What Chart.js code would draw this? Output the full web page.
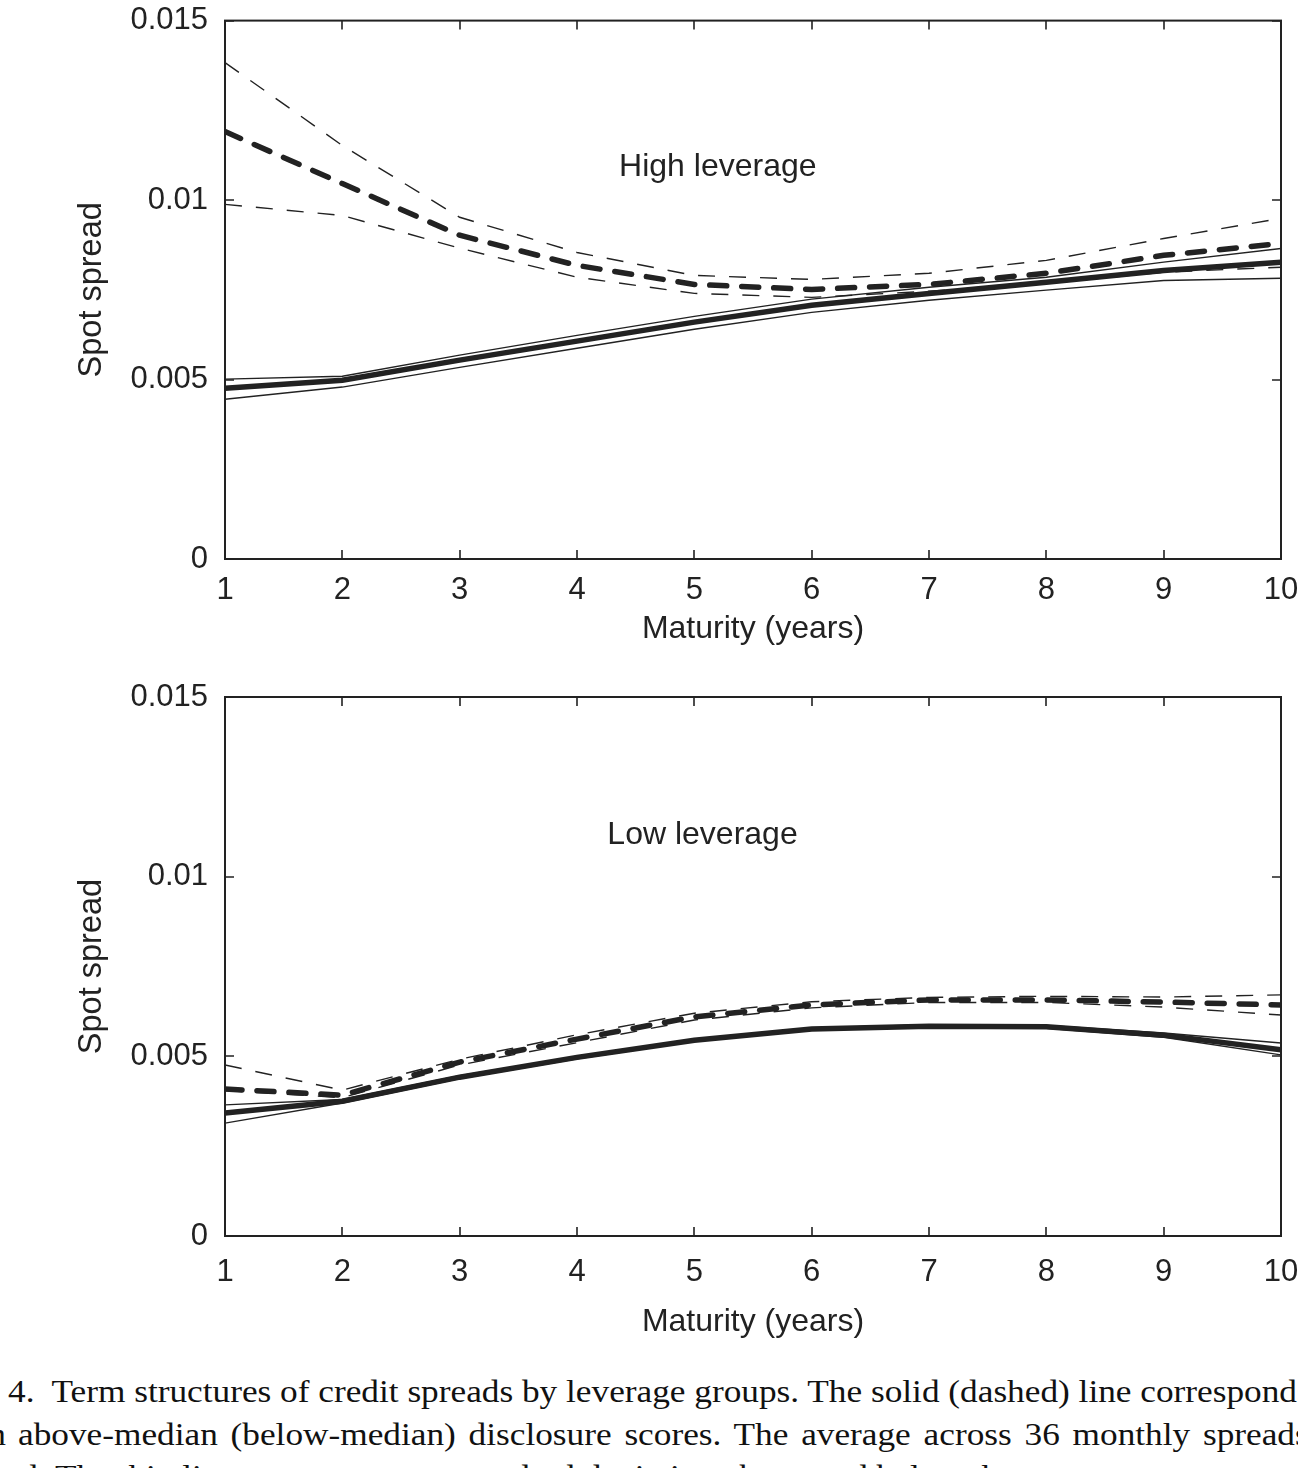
<!DOCTYPE html>
<html><head><meta charset="utf-8">
<script src="https://cdn.jsdelivr.net/npm/chart.js@4.4.1/dist/chart.umd.min.js"></script>
<style>
html,body{margin:0;padding:0;background:#fff;}
body{width:1298px;height:1468px;overflow:hidden;position:relative;}
canvas{position:absolute;left:0;}
#c1{top:-15px;}
#c2{top:660px;}
.cap{position:absolute;font-family:"Liberation Serif","DejaVu Serif",serif;font-size:32px;line-height:32px;color:#111;white-space:pre;transform-origin:0 0;}
</style></head><body>
<canvas id="c1" width="1330" height="675"></canvas>
<canvas id="c2" width="1330" height="690"></canvas>
<div class="cap" id="cap1" style="left:8px;top:1375px;"><span class="m">4.  Term structures of credit spreads by leverage groups. The solid (dashed) line correspond</span><span>s to firms</span></div>
<div class="cap" id="cap2pre" style="left:-206px;top:1418px;width:212px;text-align:right;">with</div>
<div class="cap" id="cap2" style="left:18px;top:1418px;"><span class="m">above-median (below-median) disclosure scores. The average across 36 monthly spread</span><span>s is</span></div>
<div class="cap" id="cap3" style="left:-60px;top:1460px;"><span class="m">plotted. The thin lines represent one standard deviation above and below the average.</span></div>
<script>
// ---------- data ----------
const maturities = [1, 2, 3, 4, 5, 6, 7, 8, 9, 10];
const xTickLabels = ['1', '2', '3', '4', '5', '6', '7', '8', '9', '10'];
const yTickLabels = ['0', '0.005', '0.01', '0.015'];
const panelTitles = ['High leverage', 'Low leverage'];
const panelTitleX = [5.2, 5.07];
const panelTitleY = [0.01091, 0.01116];

// High leverage panel
const highDashMean  = [0.01191, 0.01046, 0.00902, 0.00818, 0.00765, 0.00751, 0.00765, 0.00796, 0.00846, 0.00879];
const highDashUpper = [0.01383, 0.01152, 0.00952, 0.00854, 0.00790, 0.00779, 0.00796, 0.00832, 0.00893, 0.00949];
const highDashLower = [0.00988, 0.00957, 0.00866, 0.00785, 0.00740, 0.00729, 0.00746, 0.00768, 0.00799, 0.00813];
const highSolidMean  = [0.00476, 0.00498, 0.00554, 0.00607, 0.00660, 0.00707, 0.00740, 0.00771, 0.00804, 0.00827];
const highSolidUpper = [0.00501, 0.00509, 0.00568, 0.00623, 0.00676, 0.00724, 0.00757, 0.00785, 0.00827, 0.00865];
const highSolidLower = [0.00445, 0.00479, 0.00534, 0.00587, 0.00640, 0.00687, 0.00721, 0.00749, 0.00776, 0.00782];

// Low leverage panel
const lowDashMean  = [0.00409, 0.00392, 0.00484, 0.00548, 0.00610, 0.00643, 0.00657, 0.00657, 0.00651, 0.00643];
const lowDashUpper = [0.00476, 0.00406, 0.00492, 0.00560, 0.00620, 0.00652, 0.00664, 0.00667, 0.00665, 0.00671];
const lowDashLower = [0.00405, 0.00385, 0.00476, 0.00538, 0.00601, 0.00635, 0.00650, 0.00650, 0.00637, 0.00615];
const lowSolidMean  = [0.00342, 0.00375, 0.00442, 0.00497, 0.00545, 0.00576, 0.00584, 0.00582, 0.00559, 0.00518];
const lowSolidUpper = [0.00365, 0.00380, 0.00446, 0.00500, 0.00548, 0.00579, 0.00588, 0.00586, 0.00565, 0.00537];
const lowSolidLower = [0.00314, 0.00370, 0.00438, 0.00493, 0.00542, 0.00573, 0.00580, 0.00578, 0.00553, 0.00504];

// ---------- helpers ----------
const INK = '#222';
const SANS = '"Liberation Sans", Arial, Helvetica, sans-serif';
const pts = arr => arr.map((v, i) => ({x: maturities[i], y: v}));

function ds(arr, kind) {
  const base = {data: pts(arr), borderColor: INK, pointRadius: 0, tension: 0, fill: false};
  if (kind === 'thickDash') return Object.assign(base, {borderWidth: 5.5, borderDash: [17, 15], borderCapStyle: 'round'});
  if (kind === 'thinDash') return Object.assign(base, {borderWidth: 1.4, borderDash: [17, 14]});
  if (kind === 'thickSolid') return Object.assign(base, {borderWidth: 5.5});
  return Object.assign(base, {borderWidth: 1.4});
}

const framePlugin = {
  id: 'frame',
  afterDatasetsDraw(chart) {
    const {ctx, chartArea: a, scales: {x, y}} = chart;
    ctx.save();
    ctx.strokeStyle = INK;
    ctx.lineWidth = 2;
    ctx.strokeRect(a.left, a.top, a.right - a.left, a.bottom - a.top);
    ctx.lineWidth = 1.6;
    ctx.beginPath();
    const L = 9;
    x.ticks.forEach(t => {
      const px = Math.round(x.getPixelForValue(t.value));
      ctx.moveTo(px, a.bottom); ctx.lineTo(px, a.bottom - L);
      ctx.moveTo(px, a.top); ctx.lineTo(px, a.top + L);
    });
    y.ticks.forEach(t => {
      const py = Math.round(y.getPixelForValue(t.value));
      ctx.moveTo(a.left, py); ctx.lineTo(a.left + L, py);
      ctx.moveTo(a.right, py); ctx.lineTo(a.right - L, py);
    });
    ctx.stroke();
    const p = chart.options.plugins.panelLabel;
    ctx.fillStyle = INK;
    ctx.font = '32px ' + SANS;
    ctx.textAlign = 'center';
    ctx.textBaseline = 'middle';
    ctx.fillText(p.text, x.getPixelForValue(p.x), y.getPixelForValue(p.y));
    ctx.restore();
  }
};

function makeChart(id, sets, idx, cfg) {
  return new Chart(document.getElementById(id), {
    type: 'line',
    data: {datasets: sets},
    plugins: [framePlugin],
    options: {
      responsive: false,
      animation: false,
      events: [],
      layout: {padding: {left: 0, right: 49, top: cfg.padTop, bottom: 0}},
      plugins: {
        legend: {display: false},
        tooltip: {enabled: false},
        panelLabel: {text: panelTitles[idx], x: panelTitleX[idx], y: panelTitleY[idx]}
      },
      scales: {
        x: {
          type: 'linear', min: 1, max: 10,
          grid: {display: false, drawTicks: false},
          border: {display: false},
          ticks: {stepSize: 1, color: INK, font: {family: SANS, size: 31}, padding: cfg.xTickPad,
                  maxRotation: 0, autoSkip: false,
                  callback: (v) => xTickLabels[maturities.indexOf(v)]},
          title: {display: true, text: 'Maturity (years)', color: INK, font: {family: SANS, size: 32},
                  padding: {top: 0, bottom: cfg.xTitlePad}},
          afterFit: s => { s.height = cfg.xAxisH; }
        },
        y: {
          type: 'linear', min: 0, max: 0.015,
          grid: {display: false, drawTicks: false},
          border: {display: false},
          ticks: {stepSize: 0.005, color: INK, font: {family: SANS, size: 31}, padding: 17,
                  callback: (v) => yTickLabels[Math.round(v / 0.005)]},
          title: {display: true, text: 'Spot spread', color: INK, font: {family: SANS, size: 32.5},
                  padding: {top: 73, bottom: 0}},
          afterFit: s => { s.width = 225; }
        }
      }
    }
  });
}

makeChart('c1', [
  ds(highSolidMean, 'thickSolid'), ds(highDashMean, 'thickDash'),
  ds(highSolidUpper, 'thinSolid'), ds(highSolidLower, 'thinSolid'),
  ds(highDashUpper, 'thinDash'), ds(highDashLower, 'thinDash')
], 0, {padTop: 20, xAxisH: 101, xTickPad: 13, xTitlePad: 12});

makeChart('c2', [
  ds(lowSolidMean, 'thickSolid'), ds(lowDashMean, 'thickDash'),
  ds(lowSolidUpper, 'thinSolid'), ds(lowSolidLower, 'thinSolid'),
  ds(lowDashUpper, 'thinDash'), ds(lowDashLower, 'thinDash')
], 1, {padTop: 37, xAxisH: 114, xTickPad: 18, xTitlePad: 9});

// ---------- caption fitting ----------
(function () {
  const c1 = document.getElementById('cap1');
  const w1 = c1.querySelector('.m').getBoundingClientRect().width;
  const s = (1297 - 8) / w1;
  c1.style.transform = 'scaleX(' + s + ')';
  const c2 = document.getElementById('cap2');
  const m2 = c2.querySelector('.m');
  const w2 = m2.getBoundingClientRect().width;
  const spaces = (m2.textContent.match(/ /g) || []).length;
  const target = (1295 - 18) / s;
  c2.style.wordSpacing = ((target - w2) / spaces) + 'px';
  c2.style.transform = 'scaleX(' + s + ')';
  document.getElementById('cap2pre').style.transform = 'scaleX(' + s + ')';
  document.getElementById('cap2pre').style.transformOrigin = '100% 0';
  document.getElementById('cap3').style.transform = 'scaleX(' + s + ')';
})();
</script>
</body></html>
